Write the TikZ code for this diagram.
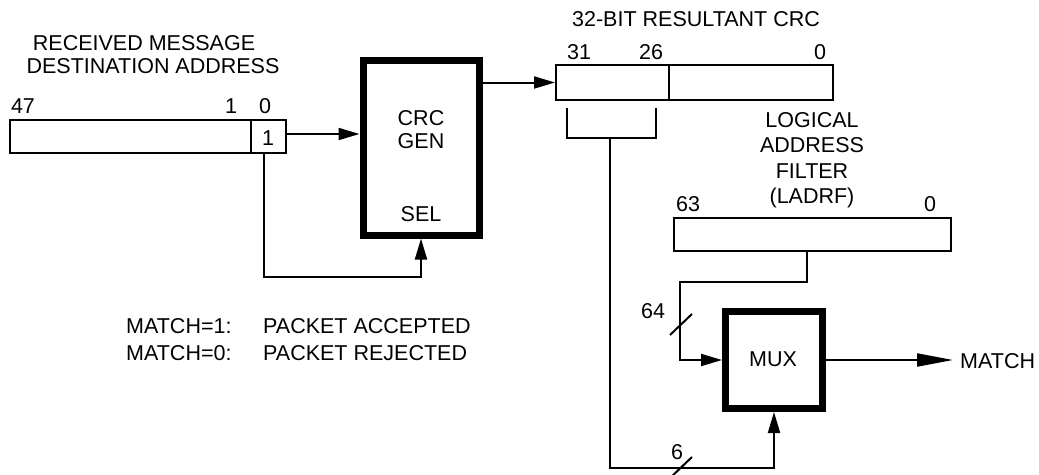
\documentclass[tikz,border=0pt]{standalone}
\usepackage{fontspec}
\setmainfont{Liberation Sans}
\usetikzlibrary{arrows.meta}
\begin{document}
\begin{tikzpicture}[x=1pt,y=-1pt,
  every node/.style={font=\fontsize{21.5}{25}\selectfont},
  txt/.style={inner sep=0pt, anchor=base},
  reg/.style={draw, line width=2pt, inner sep=0pt},
  heavy/.style={draw, line width=7pt, inner sep=0pt, fill=white},
  wire/.style={line width=2pt},
  arr/.style={wire, -{Triangle[length=21pt,width=12pt]}},
  longarr/.style={wire, -{Triangle[length=36pt,width=13pt]}}]
\useasboundingbox (0,0) rectangle (1039,474);

% left register
\node[txt] (lab1) at (144,50) {RECEIVED MESSAGE};
\node[txt] (lab2) at (153,73) {DESTINATION ADDRESS};
\node[txt] (n47) at (23,113) {47};
\node[txt] (n1) at (231,113) {1};
\node[txt] (n0) at (265,113) {0};
\node[reg, minimum width=241pt, minimum height=33pt] (addr) at (130.5,136.5) {};
\node[reg, minimum width=35pt, minimum height=33pt] (bit0) at (268.5,136.5) {};
\node[txt] (bitval) at (268,145) {1};

% CRC generator
\node[heavy, minimum width=116pt, minimum height=175pt] (gen) at (421,147.5) {};
\node[txt] (gen1) at (421,125) {CRC};
\node[txt] (gen2) at (421,148) {GEN};
\node[txt] (sel) at (421,221) {SEL};

% CRC register
\node[txt] (crctitle) at (696,26) {32-BIT RESULTANT CRC};
\node[txt] (n31) at (579,59) {31};
\node[txt] (n26) at (651,59) {26};
\node[txt] (n0b) at (820,59) {0};
\node[reg, minimum width=113pt, minimum height=35pt] (crchi) at (612.5,82.5) {};
\node[reg, minimum width=164pt, minimum height=35pt] (crclo) at (751,82.5) {};

% LADRF
\node[txt] (l1) at (812,127) {LOGICAL};
\node[txt] (l2) at (812,152) {ADDRESS};
\node[txt] (l3) at (812,178) {FILTER};
\node[txt] (l4) at (812,203) {(LADRF)};
\node[txt] (n63) at (688,211) {63};
\node[txt] (n0c) at (930,211) {0};
\node[reg, minimum width=277pt, minimum height=33pt] (ladrf) at (812.5,234.5) {};

% MUX
\node[heavy, minimum width=97pt, minimum height=97pt] (mux) at (774,360) {};
\node[txt] (muxlab) at (773,366) {MUX};
\node[txt, anchor=base west] (match) at (960,368) {MATCH};

% legend
\node[txt, anchor=base west] (m1) at (126,333) {MATCH=1:};
\node[txt, anchor=base west] (m1b) at (263,333) {PACKET ACCEPTED};
\node[txt, anchor=base west] (m0) at (126,360) {MATCH=0:};
\node[txt, anchor=base west] (m0b) at (263,360) {PACKET REJECTED};

% coordinates
\coordinate (selturn) at (264,277);
\coordinate (bl) at (567,108);
\coordinate (br) at (656,108);
\coordinate (bm) at (610,138);
\coordinate (bottom) at (610,468);
\coordinate (ldrop) at (807,282);
\coordinate (lturn) at (680,282);
\coordinate (s64a) at (670,335);
\coordinate (s64b) at (692,314);
\coordinate (s6a) at (669,479);
\coordinate (s6b) at (692,457);
\node[txt] (n64) at (653,318) {64};
\node[txt] (n6) at (677,459) {6};

% connectors
\draw[arr] (bit0.east |- 0,134) -- (gen.west |- 0,134);
\draw[arr] (bit0.south -| selturn) -- (selturn) -| (gen.south);
\draw[arr] (gen.east |- crchi.west) -- (crchi.west);
\draw[wire] (bl) |- (bm) -| (br);
\draw[arr] (bm) -- (bottom) -| (mux.south);
\draw[arr] (ladrf.south -| ldrop) -- (ldrop) -- (lturn) |- (mux.west);
\draw[wire] (s64a) -- (s64b);
\draw[wire] (s6a) -- (s6b);
\draw[longarr, shorten >=7pt] (mux.east) -- (match.west |- mux.east);
\end{tikzpicture}
\end{document}
